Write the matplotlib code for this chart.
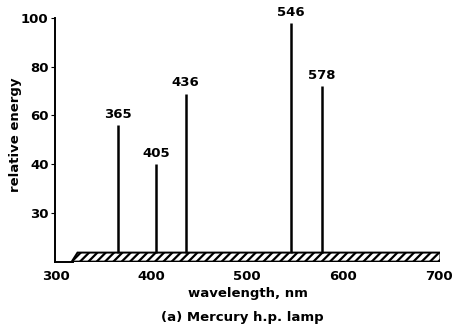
import matplotlib.pyplot as plt
from matplotlib.patches import Polygon

# Mercury lines
wavelengths = [365, 405, 436, 546, 578]
energy = [56, 40, 69, 98, 72]
line_labels = ['365', '405', '436', '546', '578']

ytick_pos = [20, 40, 60, 80, 100]
ytick_labels = ['30', '40', '60', '80', '100']
xtick_pos = [300, 400, 500, 600, 700]

plt.rcParams['font.family'] = 'DejaVu Sans'
plt.rcParams['font.weight'] = 'bold'
plt.rcParams['hatch.linewidth'] = 1.6

fig = plt.figure(figsize=(4.54, 3.27), dpi=100)
ax = fig.add_axes([0.1222, 0.2, 0.848, 0.745])

base = 3.7  # hatched baseline height
band = Polygon([(317, 0), (323, base), (702, base), (702, 0)], closed=True,
               facecolor='white', edgecolor='black', hatch='////', linewidth=1.4)
ax.add_patch(band)

ax.vlines(wavelengths, base, energy, colors='black', linewidth=1.8)
for w, e, s in zip(wavelengths, energy, line_labels):
    ax.annotate(s, (w, e), xytext=(0, 3), textcoords='offset points',
                ha='center', va='bottom', fontsize=9.5, fontweight='bold')

ax.set_xlim(300, 702)
ax.set_ylim(0, 100)
ax.set_yticks(ytick_pos)
ax.set_yticklabels(ytick_labels)
ax.set_xticks(xtick_pos)
ax.tick_params(axis='x', length=0, pad=6, labelsize=9.5)
ax.tick_params(axis='y', length=3, direction='out', pad=2, labelsize=9.5)
for side in ['top', 'right']:
    ax.spines[side].set_visible(False)
ax.spines['left'].set_linewidth(1.4)
ax.spines['bottom'].set_bounds(300, 318)
ax.spines['bottom'].set_linewidth(1.4)

ax.set_xlabel('wavelength, nm', fontsize=9.5, fontweight='bold', labelpad=3)
ax.set_ylabel('relative energy', fontsize=9.5, fontweight='bold')
ax.yaxis.set_label_coords(-0.088, 0.52)
fig.text(0.534, 0.03, '(a) Mercury h.p. lamp', ha='center', va='center',
         fontsize=9.5, fontweight='bold')

fig.savefig('out.png', dpi=100)
